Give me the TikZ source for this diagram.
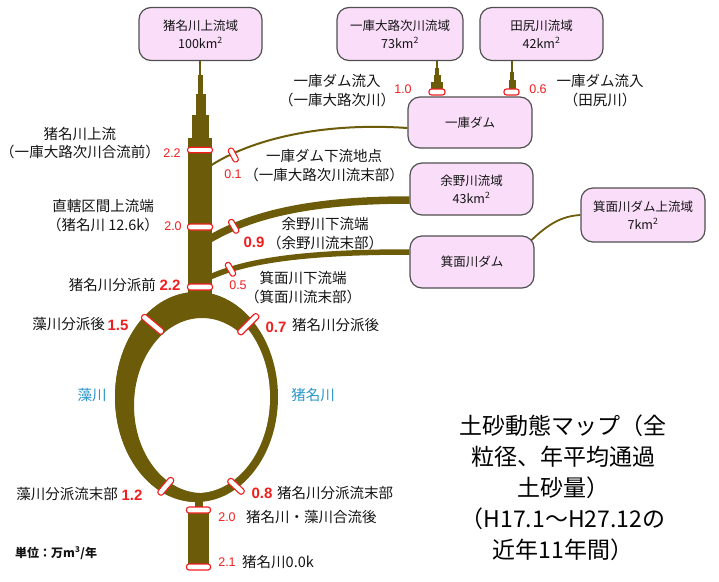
\documentclass[tikz,border=0pt]{standalone}
\usepackage{fontspec}
\setmainfont{Noto Sans CJK JP}
\newfontfamily\numfont{Liberation Sans}
\definecolor{riv}{RGB}{108,92,10}
\definecolor{boxfill}{RGB}{249,221,249}
\definecolor{boxline}{RGB}{80,80,80}
\definecolor{numred}{RGB}{240,30,30}
\definecolor{txt}{RGB}{20,20,20}
\definecolor{cyanr}{RGB}{40,150,200}
\pgfdeclarelayer{bg}
\pgfsetlayers{bg,main}
\begin{document}
\begin{tikzpicture}[x=1pt,y=-1pt,
  box/.style={draw=boxline, fill=boxfill, line width=1.2pt, rounded corners=12pt, align=center, inner sep=0pt,
    font=\fontsize{12.5}{18}\selectfont, text=txt},
  lbl/.style={font=\fontsize{14.5}{18.5}\selectfont, text=txt, inner sep=0pt, align=center},
  unitlbl/.style={font=\bfseries\fontsize{12}{14}\selectfont, text=txt, inner sep=0pt},
  num/.style={font=\numfont\fontsize{12.5}{14}\selectfont, text=numred, inner sep=0pt},
  bnum/.style={font=\numfont\bfseries\fontsize{15}{16}\selectfont, text=numred, inner sep=0pt},
  mk/.style={draw=numred, fill=white, rounded corners=2.5pt, line width=1.1pt, minimum height=6pt, inner sep=0pt},
  ttl/.style={font=\fontsize{23}{31}\selectfont, text=black, inner sep=0pt, align=center},
  rivline/.style={draw=riv}
]
\useasboundingbox (0,0) rectangle (719,581);

% boxes
\node[box, minimum width=123pt, minimum height=53pt] (Bina) at (200.5,34) {猪名川上流域\\100km\textsuperscript{2}};
\node[box, minimum width=126pt, minimum height=53pt] (Bhito) at (400,34) {一庫大路次川流域\\73km\textsuperscript{2}};
\node[box, minimum width=123pt, minimum height=53pt] (Btaj) at (541.5,34) {田尻川流域\\42km\textsuperscript{2}};
\node[box, minimum width=124pt, minimum height=51pt] (Bdam) at (470,122.5) {一庫ダム};
\node[box, minimum width=123pt, minimum height=52pt] (Byono) at (471.5,189) {余野川流域\\43km\textsuperscript{2}};
\node[box, minimum width=124pt, minimum height=52pt] (Bmino) at (472,262) {箕面川ダム};
\node[box, minimum width=124pt, minimum height=54pt] (Bminoup) at (643,215) {箕面川ダム上流域\\7km\textsuperscript{2}};

\coordinate (t1) at (210,166);
\coordinate (t2) at (208,240);
\coordinate (t3) at (208,278);

\begin{pgfonlayer}{bg}
  % main trunk (upper)
  \fill[riv] (199.25,60) rectangle (200.75,75);
  \fill[riv] (197.5,75) rectangle (203,94);
  \fill[riv] (195.5,94) rectangle (206,115);
  \fill[riv] (192,115) rectangle (209,138);
  \fill[riv] (188,138) rectangle (212,296);
  % inflow stems
  \fill[riv] (436.25,60) rectangle (437.75,68);
  \fill[riv] (435,68) rectangle (439,75);
  \fill[riv] (433.5,75) rectangle (440.5,82);
  \fill[riv] (431,82) rectangle (443,95);
  \fill[riv] (511.25,60) rectangle (512.75,72);
  \fill[riv] (510.25,72) rectangle (513.75,80);
  \fill[riv] (508.5,80) rectangle (515.5,95);
  % ring
  \fill[riv] (196.5,397) ellipse [x radius=81.5pt, y radius=105pt];
  \fill[white] (197,397.5) ellipse [x radius=73pt, y radius=95.5pt];
  \begin{scope}
    \clip (200,600) -- (0,600) -- (0,250) -- (300,250) -- (300,273) -- (200,373) -- cycle;
    \fill[riv, even odd rule] (196.5,397) ellipse [x radius=81.5pt, y radius=105pt]
                              (202,405.5) ellipse [x radius=68pt, y radius=87.5pt];
  \end{scope}
  % lower trunk
  \fill[riv] (195,494) rectangle (203,512);
  \fill[riv] (188,510) rectangle (209,567);
  % branches
  \draw[rivline, line width=2pt] (t1) .. controls (250,140) and (320,122) .. ([yshift=-5.5pt]Bdam.west);
  \draw[rivline, line width=7.5pt] (t2) .. controls (250,215) and (310,200) .. ([yshift=-11pt]Byono.west);
  \draw[rivline, line width=5.5pt] (t3) .. controls (250,258) and (320,252) .. ([yshift=10pt]Bmino.west);
  \draw[rivline, line width=1.8pt] ([xshift=-4pt,yshift=21pt]Bmino.east) .. controls (548,224) and (562,216) .. (Bminoup.west);
\end{pgfonlayer}

% markers
\node[mk, minimum width=25pt, minimum height=5.5pt] (m1) at (200,150) {};
\node[mk, minimum width=25pt] (m2) at (200,227) {};
\node[mk, minimum width=25pt] (m3) at (200,287) {};
\node[mk, minimum width=15pt, minimum height=5.5pt, rotate=-62] (m01) at (233.3,155) {};
\node[mk, minimum width=15pt, minimum height=5.5pt, rotate=-60] (m09) at (233.7,226.3) {};
\node[mk, minimum width=15pt, minimum height=5.5pt, rotate=-60] (m05) at (230.5,269.3) {};
\node[mk, minimum width=16pt] (m10) at (437,92) {};
\node[mk, minimum width=15pt] (m06) at (511.5,92) {};
\node[mk, minimum width=27pt, rotate=-40] (m15) at (152.7,324.3) {};
\node[mk, minimum width=27pt, rotate=45] (m07) at (248.3,324.2) {};
\node[mk, minimum width=21pt, rotate=50] (m12) at (165.8,486.3) {};
\node[mk, minimum width=20pt, rotate=-43] (m08) at (236,486.3) {};
\node[mk, minimum width=24pt] (m20) at (198.5,510) {};
\node[mk, minimum width=24pt] (m21) at (198.5,567) {};

% numbers
\node[num] (n1) at (172,153) {2.2};
\node[num] (n2) at (233,174) {0.1};
\node[num] (n3) at (173,226) {2.0};
\node[bnum] (n4) at (254,242) {0.9};
\node[bnum] (n5) at (170,285) {2.2};
\node[num] (n6) at (238,285) {0.5};
\node[bnum] (n7) at (118,325) {1.5};
\node[bnum] (n8) at (276,327) {0.7};
\node[bnum] (n9) at (132,495) {1.2};
\node[bnum] (n10) at (262,493) {0.8};
\node[num] (n11) at (227,517) {2.0};
\node[num] (n12) at (227,562) {2.1};
\node[num] (n13) at (403,89) {1.0};
\node[num] (n14) at (538,89) {0.6};

% labels
\node[lbl] (l_inaup) at (80,143) {猪名川上流\\（一庫大路次川合流前）};
\node[lbl] (l_hdown) at (324,165.5) {一庫ダム下流地点\\（一庫大路次川流末部）};
\node[lbl] (l_chok) at (103,215.5) {直轄区間上流端\\（猪名川 12.6k）};
\node[lbl] (l_yono) at (325,233.5) {余野川下流端\\（余野川流末部）};
\node[lbl] (l_mino) at (303,287.5) {箕面川下流端\\（箕面川流末部）};
\node[lbl, anchor=east] (l_bunzen) at (156,285) {猪名川分派前};
\node[lbl, anchor=east] (l_mogo) at (105,324) {藻川分派後};
\node[lbl, anchor=west] (l_inago) at (292,325) {猪名川分派後};
\node[lbl, text=cyanr] (l_mo) at (92,395) {藻川};
\node[lbl, text=cyanr] (l_ina) at (313,395) {猪名川};
\node[lbl, anchor=east] (l_moend) at (118,494) {藻川分派流末部};
\node[lbl, anchor=west] (l_inaend) at (277,493) {猪名川分派流末部};
\node[lbl, anchor=west] (l_gory) at (246,517) {猪名川・藻川合流後};
\node[lbl, anchor=west] (l_00k) at (242,562) {猪名川0.0k};
\node[unitlbl, anchor=west] (l_unit) at (15,553) {単位：万m\textsuperscript{3}/年};
\node[lbl] (l_in1) at (337,90.5) {一庫ダム流入\\（一庫大路次川）};
\node[lbl] (l_in2) at (600,90.5) {一庫ダム流入\\（田尻川）};
\node[ttl] (title) at (563,487.5) {土砂動態マップ（全\\粒径、年平均通過\\土砂量）\\（H17.1～H27.12の\\近年11年間）};
\end{tikzpicture}
\end{document}
